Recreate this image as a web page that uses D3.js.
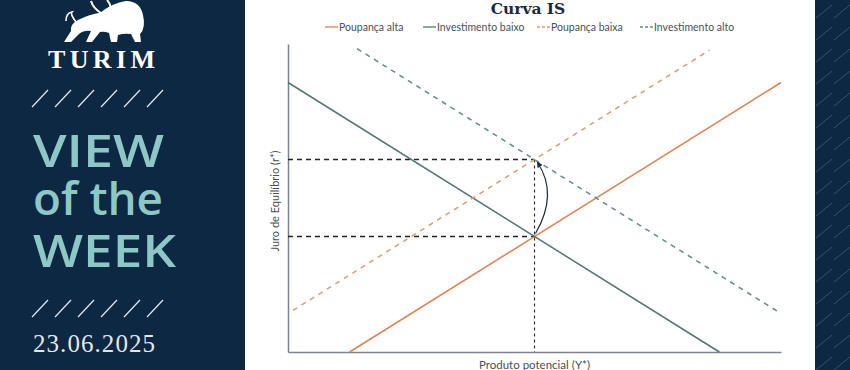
<!DOCTYPE html>
<html>
<head>
<meta charset="utf-8">
<script src="https://cdn.jsdelivr.net/npm/d3@7"></script>
<style>
  html, body { margin: 0; padding: 0; background: #fff; }
  svg { display: block; }
</style>
</head>
<body>
<div id="chart"></div>
<script>
// chart values (abstract units, 0..100 on both axes)
const seriesNames = ["Poupança alta", "Investimento baixo", "Poupança baixa", "Investimento alto"];
const seriesX = [[12.5, 100], [0, 87.5], [1, 85.5], [14, 100]];
const seriesY = [[0, 87.5], [87.5, 0], [13.5, 98], [98.5, 12.5]];
const eqX = 50;
const eqY = [37.5, 62.5];
const panelLines = ["VIEW", "of the", "WEEK"];
const dateLabel = "23.06.2025";

const colors = ["#e0804f", "#4f7672", "#e29a6c", "#5f8c88"];
const dashed = [false, false, true, true];

const width = 850, height = 370;
const svg = d3.select("#chart").append("svg")
  .attr("width", width)
  .attr("height", height);

// ---------- left panel ----------
const navy = "#0d2842";
svg.append("rect").attr("x", 0).attr("y", 0).attr("width", 245).attr("height", height).attr("fill", navy);

// bull logo (rough silhouette)
const logo = svg.append("g").attr("fill", "#fff").attr("stroke", "none");
logo.append("path")
  .attr("d", "M64,42 L71,31 Q70,24 78,20 Q90,14 100,13 Q112,3 126,1 Q140,1 143,15 Q146,28 140,34 L141,42 L135,42 L131,34 Q124,33 118,35 L117,42 L111,42 L109,33 Q104,31 100,32 L92,42 L86,42 L91,31 Q84,30 79,34 L71,42 Z");
logo.append("path")
  .attr("d", "M98,13 Q95,23 101,27 Q109,28 114,22 L116,10 Z");
logo.append("path")
  .attr("fill", "none").attr("stroke", "#fff").attr("stroke-width", 1.6)
  .attr("d", "M76,22 Q70,14 72,12 Q66,13 66,21");
logo.append("path")
  .attr("fill", "none").attr("stroke", "#fff").attr("stroke-width", 2)
  .attr("d", "M101,13 Q93,8 91,1 M111,8 Q110,3 107,0");

svg.append("text")
  .attr("x", 48).attr("y", 68)
  .attr("textLength", 107).attr("lengthAdjust", "spacing")
  .attr("font-family", "Liberation Serif, serif").attr("font-weight", "bold")
  .attr("font-size", 26).attr("fill", "#fff")
  .text("TURIM");

const slashStarts = [32, 55, 78, 101, 124, 147];
[107, 317].forEach(yb => {
  svg.append("g").selectAll("line").data(slashStarts).join("line")
    .attr("x1", d => d).attr("y1", yb)
    .attr("x2", d => d + 16).attr("y2", yb - 17)
    .attr("stroke", "#e6ebf0").attr("stroke-width", 1.2);
});

const panelBase = [167, 215, 267];
const panelWidth = [131, 130, 143];
svg.append("g").selectAll("text").data(panelLines).join("text")
  .attr("x", 33).attr("y", (d, i) => panelBase[i])
  .attr("textLength", (d, i) => panelWidth[i]).attr("lengthAdjust", "spacingAndGlyphs")
  .attr("font-family", "Open Sans, Lato, sans-serif").attr("font-weight", 600)
  .attr("font-size", 45).attr("fill", "#8ec8c6")
  .text(d => d);

svg.append("text")
  .attr("x", 33).attr("y", 352)
  .attr("textLength", 122).attr("lengthAdjust", "spacing")
  .attr("font-family", "Liberation Serif, serif")
  .attr("font-size", 25).attr("fill", "#e3e7ec")
  .text(dateLabel);

// ---------- right strip ----------
const defs = svg.append("defs");
const pat = defs.append("pattern")
  .attr("id", "stripes").attr("patternUnits", "userSpaceOnUse")
  .attr("x", 815).attr("y", 0).attr("width", 18).attr("height", 22);
pat.append("rect").attr("width", 18).attr("height", 22).attr("fill", navy);
pat.append("line").attr("x1", 1).attr("y1", 18).attr("x2", 17).attr("y2", 5)
  .attr("stroke", "#36506b").attr("stroke-width", 1);
svg.append("rect").attr("x", 815).attr("y", 0).attr("width", 35).attr("height", height)
  .attr("fill", "url(#stripes)");

// ---------- chart ----------
const x = d3.scaleLinear().domain([0, 100]).range([288, 781]);
const y = d3.scaleLinear().domain([0, 100]).range([352, 44]);

svg.append("text")
  .attr("x", 528).attr("y", 14).attr("text-anchor", "middle")
  .attr("font-family", "DejaVu Serif, serif").attr("font-weight", "bold")
  .attr("font-size", 15.5).attr("fill", "#1b2b3c")
  .text("Curva IS");

// legend
const legendX = [325, 423, 537, 640];
const legend = svg.append("g").selectAll("g").data(seriesNames).join("g")
  .attr("transform", (d, i) => `translate(${legendX[i]},27)`);
legend.append("line")
  .attr("x1", 0).attr("x2", 13).attr("y1", 0).attr("y2", 0)
  .attr("stroke", (d, i) => colors[i]).attr("stroke-width", 1.3)
  .attr("stroke-dasharray", (d, i) => dashed[i] ? "3,2" : null);
legend.append("text")
  .attr("x", 14).attr("y", 3.5)
  .attr("font-family", "Lato, sans-serif").attr("font-size", 10.5).attr("fill", "#4a4f58")
  .text(d => d);

// axes (no ticks)
const axisColor = "#7c8296";
svg.append("g").attr("transform", `translate(${x(0)},0)`)
  .call(d3.axisLeft(y).tickValues([]).tickSizeOuter(0))
  .call(g => g.select(".domain").attr("stroke", axisColor).attr("stroke-width", 1.5));
svg.append("g").attr("transform", `translate(0,${y(0)})`)
  .call(d3.axisBottom(x).tickValues([]).tickSizeOuter(0))
  .call(g => g.select(".domain").attr("stroke", axisColor).attr("stroke-width", 1.5));

svg.append("text")
  .attr("transform", `translate(279,201) rotate(-90)`)
  .attr("text-anchor", "middle")
  .attr("font-family", "Lato, sans-serif").attr("font-size", 11).attr("fill", "#4a4f58")
  .text("Juro de Equilíbrio (r*)");
svg.append("text")
  .attr("x", x(50)).attr("y", 369).attr("text-anchor", "middle")
  .attr("font-family", "Lato, sans-serif").attr("font-size", 11.5).attr("fill", "#4a4f58")
  .text("Produto potencial (Y*)");

// guide lines
eqY.forEach(v => {
  svg.append("line")
    .attr("x1", x(0)).attr("x2", x(eqX)).attr("y1", y(v)).attr("y2", y(v))
    .attr("stroke", "#222").attr("stroke-width", 1.4).attr("stroke-dasharray", "5,4");
});
svg.append("line")
  .attr("x1", x(eqX)).attr("x2", x(eqX)).attr("y1", y(eqY[1])).attr("y2", y(0))
  .attr("stroke", "#333").attr("stroke-width", 1.2).attr("stroke-dasharray", "3,3");

// series
const line = d3.line().x(d => x(d[0])).y(d => y(d[1]));
seriesNames.forEach((name, i) => {
  const pts = seriesX[i].map((v, j) => [v, seriesY[i][j]]);
  svg.append("path")
    .datum(pts)
    .attr("d", line)
    .attr("fill", "none")
    .attr("stroke", colors[i])
    .attr("stroke-width", 1.5)
    .attr("stroke-dasharray", dashed[i] ? "5,5" : null);
});

// curved arrow
defs.append("marker")
  .attr("id", "arrow").attr("viewBox", "0 0 10 10")
  .attr("refX", 8).attr("refY", 5)
  .attr("markerWidth", 5).attr("markerHeight", 5)
  .attr("orient", "auto-start-reverse")
  .append("path").attr("d", "M0,0 L10,5 L0,10 Z").attr("fill", "#1d2b3c");
const x0 = x(eqX), yA = y(eqY[0]), yB = y(eqY[1]);
svg.append("path")
  .attr("d", `M${x0 + 1},${yA - 3} Q${x0 + 24},${(yA + yB) / 2 - 4} ${x0 + 3},${yB + 3}`)
  .attr("fill", "none").attr("stroke", "#1d2b3c").attr("stroke-width", 1.2)
  .attr("marker-end", "url(#arrow)");
</script>
</body>
</html>
